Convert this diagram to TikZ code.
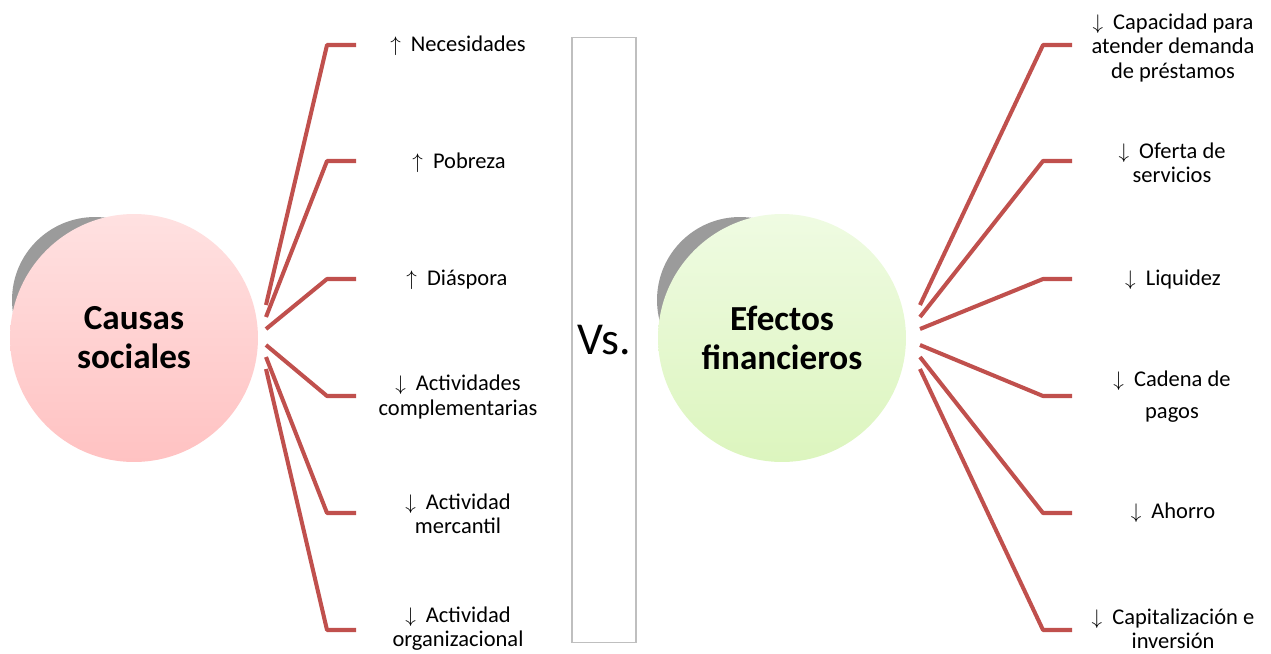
\documentclass[tikz,border=0pt]{standalone}
\usepackage{fontspec}
\setmainfont{Carlito}
\definecolor{linered}{HTML}{C0504D}
\definecolor{pinktop}{HTML}{FFE1E1}
\definecolor{pinkbot}{HTML}{FFC2C2}
\definecolor{greentop}{HTML}{EFFBE2}
\definecolor{greenbot}{HTML}{DCF5BE}
\definecolor{shadowgray}{HTML}{9B9B9B}
\definecolor{boxgray}{HTML}{BFBFBF}
\newcommand{\up}{$\uparrow$\hspace{0.45em}}
\newcommand{\down}{$\downarrow$\hspace{0.45em}}
\tikzset{
  branch/.style={draw=linered, line width=2.3pt, line join=round},
  leaf/.style={align=center, inner sep=0pt, font=\fontsize{12.8}{13.7}\selectfont},
  hub/.style={circle, minimum size=4.96cm, inner sep=0pt, align=center,
    font=\fontsize{20}{22.2}\selectfont\bfseries},
  backdisk/.style={circle, fill=shadowgray, minimum size=3.32cm, inner sep=0pt},
}
\begin{document}
\begin{tikzpicture}[x=0.02cm, y=-0.02cm]
        \useasboundingbox (0,0) rectangle (1271,653);

        \node at (95,300) [backdisk] (causasback) {};
        \node at (134,338) [hub, top color=pinktop, bottom color=pinkbot] (causas) {Causas\\sociales};
        \node at (740,300) [backdisk] (efectosback) {};
        \node at (782,338) [hub, top color=greentop, bottom color=greenbot] (efectos) {Efectos\\financieros};

        \node at (604,340) [draw=boxgray, line width=0.6pt, minimum width=1.28cm, minimum height=12.12cm,
          inner sep=0pt, font=\fontsize{26}{28}\selectfont] (vs) {Vs.};

        \node at (458,46) [leaf] (necesidades) {\up Necesidades};
        \node at (459,163) [leaf] (pobreza) {\up Pobreza};
        \node at (457,280) [leaf] (diaspora) {\up Diáspora};
        \node at (458,397) [leaf] (complementarias) {\down Actividades\\complementarias};
        \node at (458,514) [leaf] (mercantil) {\down Actividad\\mercantil};
        \node at (458,629) [leaf] (organizacional) {\down Actividad\\organizacional};

        \node at (1173,48) [leaf] (capacidad) {\down Capacidad para\\atender demanda\\de préstamos};
        \node at (1172,163) [leaf] (oferta) {\down Oferta de\\servicios};
        \node at (1173,280) [leaf] (liquidez) {\down Liquidez};
        \node at (1172,397) [leaf] (cadena) {\down Cadena de\\[4.5pt]pagos};
        \node at (1173,513) [leaf] (ahorro) {\down Ahorro};
        \node at (1173,629) [leaf] (capitalizacion) {\down Capitalización e\\inversión};

        \foreach \i/\ys/\yt in {1/305/45, 2/317/161, 3/329/279, 4/345/396, 5/357/513, 6/369/630} {
          \coordinate (cs\i) at (266,\ys);
          \coordinate (ce\i) at (356,\yt);
          \draw[branch] (cs\i) -- ([xshift=-0.58cm]ce\i) -- (ce\i);
          \coordinate (es\i) at (920,\ys);
          \coordinate (ee\i) at (1072,\yt);
          \draw[branch] (es\i) -- ([xshift=-0.58cm]ee\i) -- (ee\i);
        }
    \end{tikzpicture}
\end{document}
